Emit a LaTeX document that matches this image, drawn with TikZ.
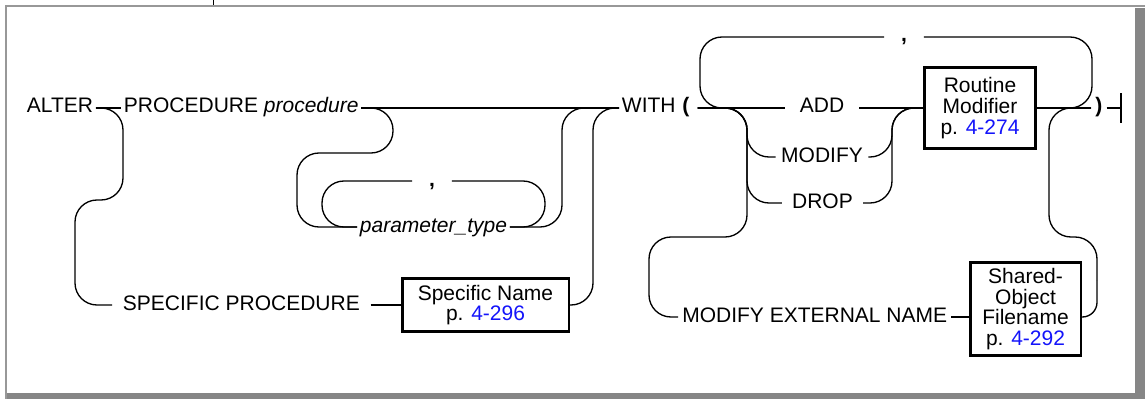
\documentclass[tikz,border=0pt]{standalone}
\usepackage{fontspec}
\setmainfont{Liberation Sans}
\usepackage{tikz}
\usetikzlibrary{calc}
\definecolor{framegray}{RGB}{134,134,134}
\definecolor{linkblue}{RGB}{20,20,250}

\tikzset{
  rail/.style={line width=1pt, rounded corners=16.5pt},
  kw/.style={font=\fontsize{15.75}{15.5}\selectfont, inner xsep=2pt, inner ysep=0pt,
             text height=11.5pt, text depth=4pt},
  refbox/.style={draw, line width=2pt, font=\fontsize{15.75}{15.5}\selectfont,
                 align=center, inner sep=0pt},
}

\begin{document}
\begin{tikzpicture}[x=0.75pt,y=-0.75pt]
   \useasboundingbox (0,0) rectangle (1145,399);

   % 外框
   \fill[framegray] (1135,8) rectangle (1145,399);
   \fill[framegray] (5,393) rectangle (1145,399);
   \draw[framegray!85, line width=1.5pt] (5.5,399) -- (5.5,6) -- (1145,6);
   \draw[line width=0.6pt] (213,0) -- (213,5);

   % 拐角点
   \path
    (123,108) coordinate (a1) (123,200) coordinate (a2)
    (75,200) coordinate (a3) (75,305) coordinate (a4)
    (593,305) coordinate (s1) (593,108) coordinate (s2)
    (393,108) coordinate (p1) (393,153) coordinate (p2)
    (297,153) coordinate (p3) (297,227) coordinate (p4)
    (322,181) coordinate (p5) (322,227) coordinate (p6)
    (545,227) coordinate (p7) (545,181) coordinate (p8)
    (562,227) coordinate (p9) (562,108) coordinate (p10)
    (747,108) coordinate (w1) (747,157) coordinate (w2)
    (747,203) coordinate (w3) (747,237) coordinate (w4)
    (649,237) coordinate (w5) (649,317) coordinate (w6)
    (892,157) coordinate (w7) (892,203) coordinate (w8)
    (892,108) coordinate (w9)
    (700,37) coordinate (l1) (700,108) coordinate (l2)
    (1092,108) coordinate (l3) (1092,37) coordinate (l4)
    (1097,317) coordinate (e1) (1097,280) coordinate (e2)
    (1097,237) coordinate (e3) (1049,237) coordinate (e4)
    (1049,108) coordinate (e5)
    (1121,108) coordinate (stop)
    ;

   % 关键字与参数
   \node[kw, anchor=west] (alter) at (24,108) {ALTER};
   \node[kw, anchor=west] (procname) at (121,108) {PROCEDURE \textit{procedure}};
   \node[kw, anchor=west] (with) at (619,108) {WITH};
   \node[kw, anchor=west, inner xsep=6pt] (lpar) at (674,108) {\textbf{(}};
   \node[kw, inner xsep=11pt] (add) at (822,108) {ADD};
   \node[kw, inner xsep=4pt] (modify) at (822,157) {MODIFY};
   \node[kw, inner xsep=7.5pt] (drop) at (822.5,203) {DROP};
   \node[kw, anchor=west, inner xsep=3pt] (rpar) at (1091,108) {\textbf{)}};
   \node[kw, anchor=west, inner xsep=8pt] (specproc) at (112,305) {SPECIFIC PROCEDURE};
   \node[kw, anchor=west] (ptype) at (357,227) {\textit{parameter\_type}};
   \node[kw, inner xsep=12.5pt] (pcomma) at (432,181) {\textbf{,}};
   \node[kw, inner xsep=12.5pt] (wcomma) at (904,37) {\textbf{,}};
   \node[kw, anchor=west, inner xsep=3pt] (modext) at (678,317) {MODIFY EXTERNAL NAME};

   % 引用框
   \node[refbox, minimum width=125pt, minimum height=40pt] (specname) at (485.5,305)
        {Specific Name\\p. \textcolor{linkblue}{4-296}};
   \node[refbox, minimum width=83.5pt, minimum height=61pt] (routine) at (980,108)
        {Routine\\Modifier\\p. \textcolor{linkblue}{4-274}};
   \node[refbox, minimum width=83pt, minimum height=70pt] (shared) at (1025.5,309)
        {Shared-\\Object\\Filename\\p. \textcolor{linkblue}{4-292}};

   % 主线
   \draw[rail] (alter.east) -- (procname.west);
   \draw[rail] (procname.east) -- (with.west);
   \draw[rail] (lpar.east) -- (add.west);
   \draw[rail] (add.east) -- (routine.west);
   \draw[rail] (routine.east) -- (rpar.west);
   \draw[rail] (rpar.east) -- (stop);
   \draw[rail] ([yshift=11pt]stop) -- ([yshift=-11pt]stop);

   % SPECIFIC 分支
   \draw[rail] (alter.east) -- (a1) -- (a2) -- (a3) -- (a4) -- (specproc.west);
   \draw[rail] (specproc.east) -- (specname.west);
   \draw[rail] (specname.east) -- (s1) -- (s2) -- (with.west);

   % 参数列表
   \draw[rail] (procname.east) -- (p1) -- (p2) -- (p3) -- (p4) -- (ptype.west);
   \draw[rail] (pcomma.west) -- (p5) -- (p6) -- (ptype.west);
   \draw[rail] (ptype.east) -- (p7) -- (p8) -- (pcomma.east);
   \draw[rail] (ptype.east) -- (p9) -- (p10) -- (with.west);

   % 重复的逗号回路
   \draw[rail] (wcomma.west) -- (l1) -- (l2) -- (add.west);
   \draw[rail] (routine.east) -- (l3) -- (l4) -- (wcomma.east);

   % ADD / MODIFY / DROP
   \draw[rail] (lpar.east) -- (w1) -- (w2) -- (modify.west);
   \draw[rail] (lpar.east) -- (w1) -- (w3) -- (drop.west);
   \draw[rail] (modify.east) -- (w7) -- (w9) -- (routine.west);
   \draw[rail] (drop.east) -- (w8) -- (w9) -- (routine.west);

   % MODIFY EXTERNAL NAME
   \draw[rail] (lpar.east) -- (w1) -- (w4) -- (w5) -- (w6) -- (modext.west);
   \draw[rail] (modext.east) -- (modext.east -| shared.west);
   \draw[rail, rounded corners=11pt] (shared.east |- e1) -- (e1) -- (e2);
   \draw[rail] (e2) -- (e3) -- (e4) -- (e5) -- (rpar.west);

\end{tikzpicture}
\end{document}
